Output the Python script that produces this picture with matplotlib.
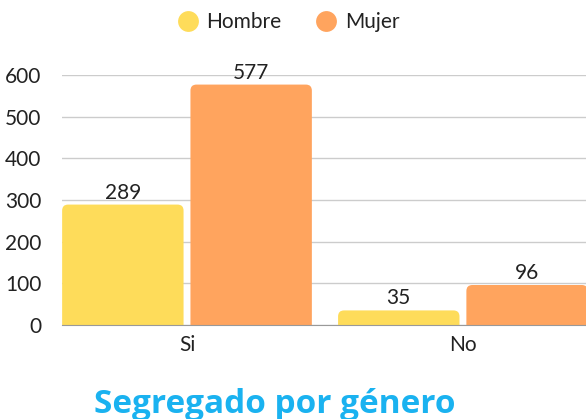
import matplotlib.pyplot as plt
from matplotlib.patches import FancyBboxPatch
from matplotlib.lines import Line2D
import numpy as np

# datos
categorias = ['Si', 'No']
hombre = [289, 35]
mujer = [577, 96]
series = ['Hombre', 'Mujer']
colores = ['#FEDC5A', '#FFA45E']

plt.rcParams['font.family'] = ['Lato', 'DejaVu Sans']

fig = plt.figure(figsize=(5.86, 4.19), dpi=100)
ax = fig.add_axes([62 / 586, 1 - 325 / 419, 1 - 62 / 586, 250 / 419])

x = np.arange(len(categorias))
ancho = 0.44
sep = 0.0125
ax.set_xlim(-0.453, 1.446)
ax.set_ylim(0, 600)

# relacion de aspecto para las esquinas redondeadas
fig.canvas.draw()
px = ax.transData.transform([(0, 0), (1, 1)])
x_por_px = 1 / (px[1][0] - px[0][0])
y_por_px = 1 / (px[1][1] - px[0][1])
radio = 6 * x_por_px

for vals, col, desplaz in [(hombre, colores[0], -1), (mujer, colores[1], 1)]:
    for xi, v in zip(x, vals):
        izq = xi + desplaz * (sep + ancho / 2) - ancho / 2
        p = FancyBboxPatch((izq, -20), ancho, v + 20,
                           boxstyle=f'round,pad=0,rounding_size={radio}',
                           mutation_aspect=y_por_px / x_por_px,
                           fc=col, ec='none', zorder=3)
        ax.add_patch(p)
        ax.text(xi + desplaz * (sep + ancho / 2), v + 5, str(v), ha='center', va='bottom',
                fontsize=15, color='#222222', clip_on=False)

ax.set_yticks(range(0, 601, 100))
ax.grid(axis='y', color='#CCCCCC', lw=1, zorder=0)
ax.set_xticks(x)
ax.set_xticklabels(categorias)
ax.tick_params(axis='both', length=0, labelsize=15, colors='#222222')
ax.tick_params(axis='x', pad=7)
ax.tick_params(axis='y', pad=15)
for s in ['top', 'right', 'left']:
    ax.spines[s].set_visible(False)
ax.spines['bottom'].set_color('#999999')
ax.spines['bottom'].set_zorder(4)

# leyenda
handles = [Line2D([], [], marker='o', ls='none', ms=15, mfc=c, mec='none') for c in colores]
fig.legend(handles, series, loc='center', bbox_to_anchor=(0.492, 1 - 22 / 419), ncol=2,
           frameon=False, fontsize=15, handlelength=1.0, handletextpad=0.4,
           columnspacing=1.65, labelcolor='#222222')

fig.text(275 / 586, 1 - 404 / 419, 'Segregado por género', ha='center', va='center',
         fontsize=24, fontweight='bold', color='#1AB2F0', family='Open Sans')

fig.savefig('out.png', dpi=100)
